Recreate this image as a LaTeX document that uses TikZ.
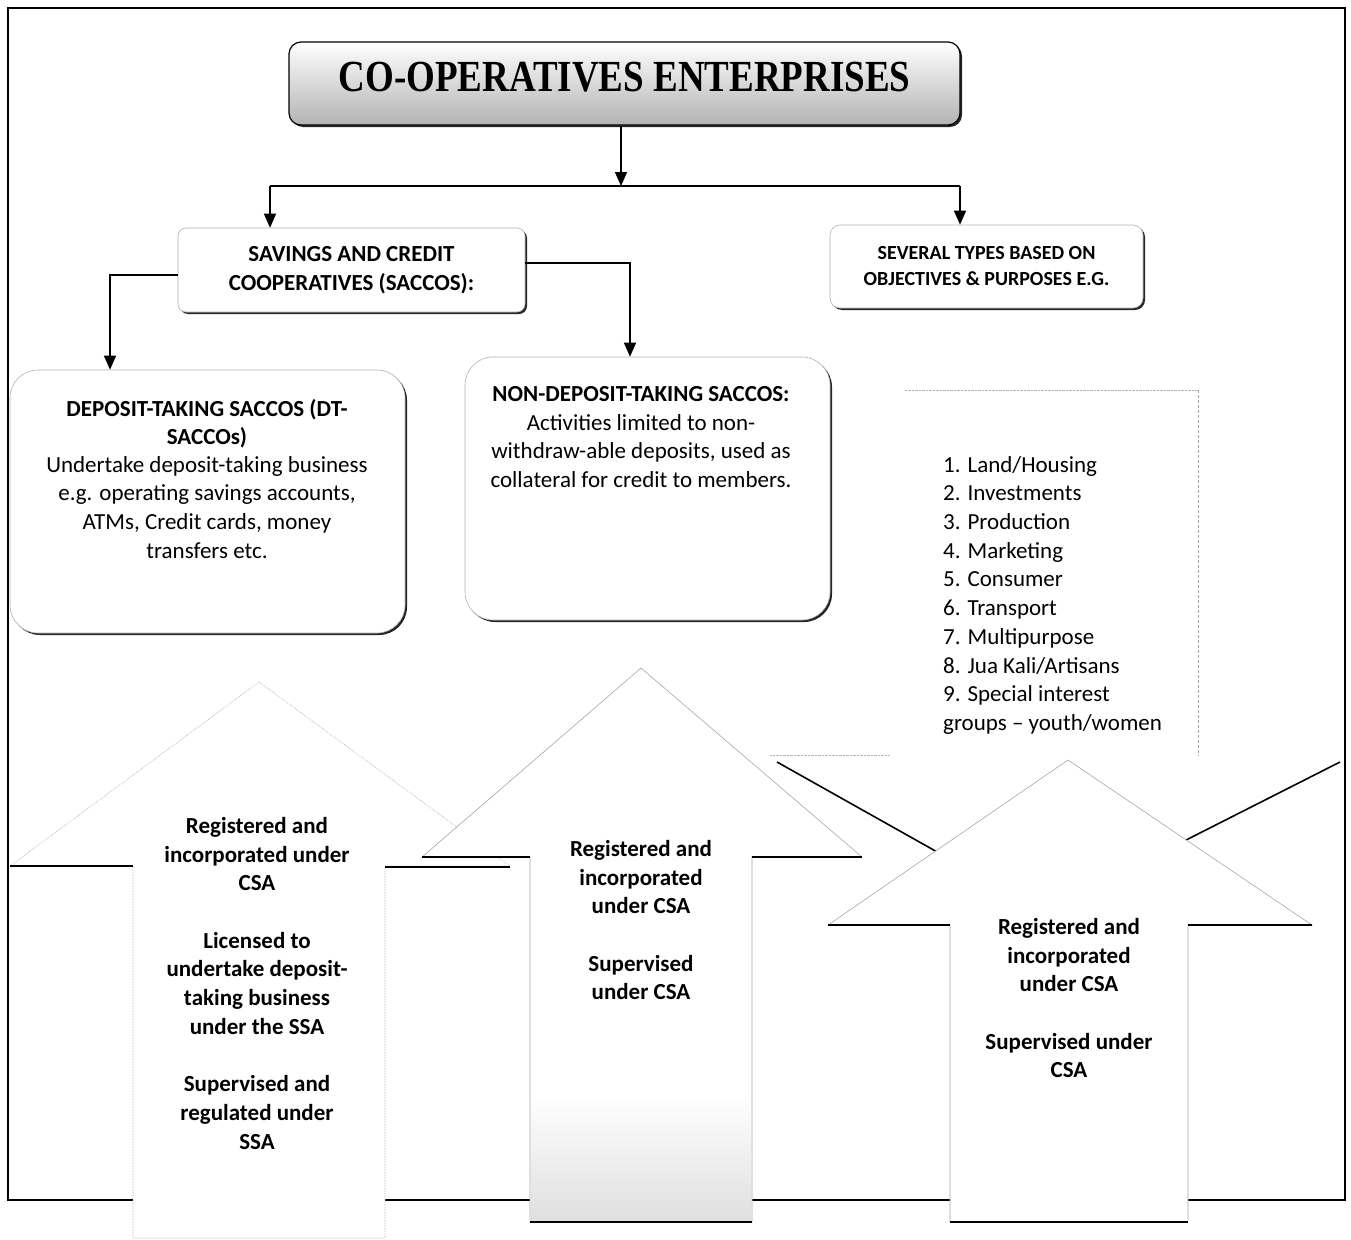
\documentclass[tikz,border=0pt]{standalone}
\usepackage{fontspec}
\setmainfont{Carlito}
\newfontfamily\titlefont{Liberation Serif}
\usetikzlibrary{positioning, shadows, arrows.meta, calc}

\tikzset{
  box/.style={draw=gray!60, line width=0.6pt, fill=white, inner sep=0pt,
    drop shadow={shadow xshift=2pt, shadow yshift=-2pt, fill=black!85, opacity=1}},
  body/.style={font=\fontsize{23}{28.7}\selectfont, align=center, inner sep=0pt},
  bodyb/.style={font=\fontsize{23}{28.7}\selectfont\bfseries, align=center, inner sep=0pt},
  link/.style={line width=1.3pt, -{Triangle[length=14pt,width=12pt]}},
  blockarrow/.style={draw=gray!70, line width=0.6pt, fill=white},
  edge/.style={line width=2pt, black},
}

\begin{document}
\begin{tikzpicture}[x=1pt, y=-1pt]
        \useasboundingbox (0,0) rectangle (1351,1239);
        % outer frame
        \draw[line width=1.2pt] (8,8) rectangle (1345,1200);

        % title
        \node[box, draw=black, line width=1.2pt, rounded corners=12pt, minimum width=671pt, minimum height=83pt,
              top color=white, middle color=white, bottom color=gray!60, text height=20pt, text depth=4pt]
              (title) at (624.5,83.5) {\titlefont\bfseries\fontsize{37}{40}\selectfont\scalebox{1}[1.2]{CO-OPERATIVES ENTERPRISES}};

        % first level boxes
        \node[box, rounded corners=8pt, minimum width=347pt, minimum height=84pt, bodyb] (saccos) at (351.5,270)
              {SAVINGS AND CREDIT\\COOPERATIVES (SACCOS):};
        \node[box, rounded corners=10pt, minimum width=313pt, minimum height=83pt,
              font=\fontsize{20}{26}\selectfont\bfseries, align=center] (several) at (986.5,266.5)
              {SEVERAL TYPES BASED ON\\OBJECTIVES \& PURPOSES E.G.};

        % second level boxes
        \node[box, rounded corners=28pt, minimum width=395pt, minimum height=263pt] (dt) at (207.5,501.5) {};
        \node[box, rounded corners=28pt, minimum width=365pt, minimum height=263pt] (ndt) at (647.5,488.5) {};
        \node[minimum width=293pt, minimum height=365pt, inner sep=0pt] (types) at (1051.5,572.5) {};
        \draw[gray!60, densely dotted] (types.north west) -- (types.north east);
        \draw[gray!70, densely dashed] (types.north east) -- (types.south east);
        \draw[gray!60, densely dotted] (770,755) -- (890,755);

        % connectors
        \coordinate (split) at (621,186);
        \coordinate (splitl) at (270,186);
        \coordinate (splitr) at (960,186);
        \draw[link] (split |- title.south) -- (split);
        \draw[line width=1.3pt] (splitl) -- (splitr);
        \draw[link] (splitl) -- (splitl |- saccos.north);
        \draw[link] (splitr) -- (splitr |- several.north);
        \draw[link] ([yshift=-5pt]saccos.west) -| ([xshift=-97.5pt]dt.north);
        \draw[link] ([yshift=7pt]saccos.east) -| ([xshift=-17.5pt]ndt.north);

        % box texts
        \node[bodyb, anchor=north] (dthead) at (207,399) {DEPOSIT-TAKING SACCOS (DT-\\SACCOs)};
        \node[body, anchor=north] (dttxt) at (207,456) {Undertake deposit-taking business\\e.g. operating savings accounts,\\ATMs, Credit cards, money\\transfers etc.};
        \node[bodyb, anchor=north] (ndthead) at (641,386) {NON-DEPOSIT-TAKING SACCOS:};
        \node[body, anchor=north] (ndttxt) at (641,414) {Activities limited to non-\\withdraw-able deposits, used as\\collateral for credit to members.};
        \node[body, align=left, anchor=north west] (typestxt) at (943,456)
              {1. Land/Housing\\2. Investments\\3. Production\\4. Marketing\\5. Consumer\\6. Transport\\7. Multipurpose\\8. Jua Kali/Artisans\\9. Special interest\\groups -- youth/women};

        % block arrows
        \draw[blockarrow, densely dotted] (259,682) -- (510,866) -- (385,866) -- (385,1238) -- (133,1238) -- (133,866) -- (10,866) -- cycle;
        \draw[edge] (10,866) -- (133,866);
        \draw[edge] (385,867) -- (510,867);

        \draw[blockarrow] (641,668) -- (862,857) -- (752,857) -- (752,1222) -- (530,1222) -- (530,857) -- (422,857) -- cycle;
        \fill[top color=white, bottom color=gray!25] (531,1095) rectangle (751,1221);
        \draw[edge] (422,857) -- (530,857);
        \draw[edge] (752,857) -- (862,857);
        \draw[edge] (530,1222) -- (752,1222);

        \draw[line width=1.6pt] (777,762) -- (1044,912) -- (1340,762);

        \draw[blockarrow] (1068,760) -- (1312,925) -- (1188,925) -- (1188,1222) -- (950,1222) -- (950,925) -- (828,925) -- cycle;
        \draw[edge] (828,925) -- (950,925);
        \draw[edge] (1188,925) -- (1312,925);
        \draw[edge] (950,1222) -- (1188,1222);

        % arrow texts
        \node[bodyb, anchor=north] (a1txt) at (257,817)
              {Registered and\\incorporated under\\CSA\\[28.7pt]Licensed to\\undertake deposit-\\taking business\\under the SSA\\[28.7pt]Supervised and\\regulated under\\SSA};
        \node[bodyb, anchor=north] (a2txt) at (641,840)
              {Registered and\\incorporated\\under CSA\\[28.7pt]Supervised\\under CSA};
        \node[bodyb, anchor=north] (a3txt) at (1069,918)
              {Registered and\\incorporated\\under CSA\\[28.7pt]Supervised under\\CSA};
\end{tikzpicture}
\end{document}
